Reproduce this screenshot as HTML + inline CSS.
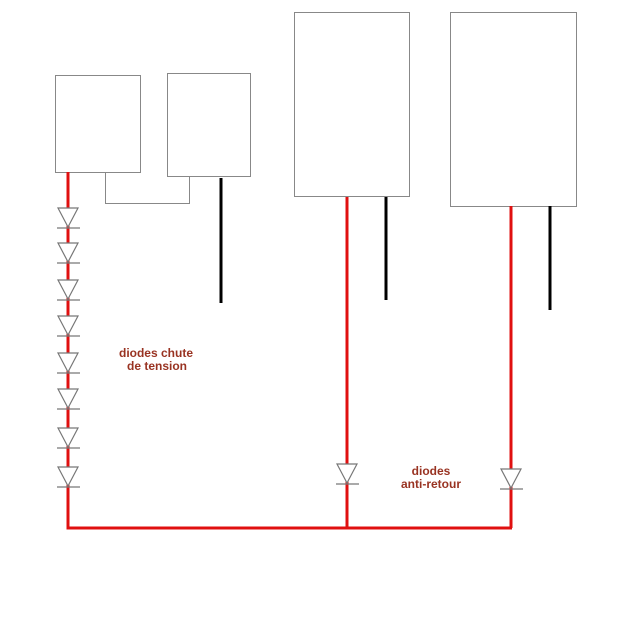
<!DOCTYPE html>
<html><head><meta charset="utf-8"><style>body{margin:0;background:#fff}svg{display:block}</style></head><body>
<svg width="640" height="640" xmlns="http://www.w3.org/2000/svg">
<rect width="640" height="640" fill="#fff"/>
<g fill="none" stroke="#888" stroke-width="1">
<rect x="55.5" y="75.5" width="85" height="97"/>
<rect x="167.5" y="73.5" width="83" height="103"/>
<rect x="294.5" y="12.5" width="115" height="184"/>
<rect x="450.5" y="12.5" width="126" height="194"/>
<polyline points="105.5,172 105.5,203.5 189.5,203.5 189.5,176"/>
</g>
<g stroke="#000" stroke-width="3">
<line x1="221" y1="178" x2="221" y2="303"/>
<line x1="386" y1="197" x2="386" y2="300"/>
<line x1="550" y1="206" x2="550" y2="310"/>
</g>
<g stroke="#e01010" stroke-width="3" fill="none">
<polyline points="68,172 68,528 512,528"/>
<line x1="347" y1="197" x2="347" y2="528"/>
<line x1="511" y1="206" x2="511" y2="528"/>
</g>
<g fill="#fff" stroke="#777" stroke-width="1.2">
<g id="d"><polygon points="58,208 78,208 68,227"/><line x1="57" y1="228" x2="80" y2="228"/></g>
<use href="#d" y="35"/><use href="#d" y="72"/><use href="#d" y="108"/>
<use href="#d" y="145"/><use href="#d" y="181"/><use href="#d" y="220"/><use href="#d" y="259"/>
<use href="#d" x="279" y="256"/>
<use href="#d" x="443" y="261"/>
</g>
<g font-family="Liberation Sans, sans-serif" font-weight="bold" font-size="12" fill="#993322" text-anchor="middle">
<text x="156" y="357">diodes chute</text>
<text x="157" y="370">de tension</text>
<text x="431" y="475">diodes</text>
<text x="431" y="488">anti-retour</text>
</g>
</svg>
</body></html>
